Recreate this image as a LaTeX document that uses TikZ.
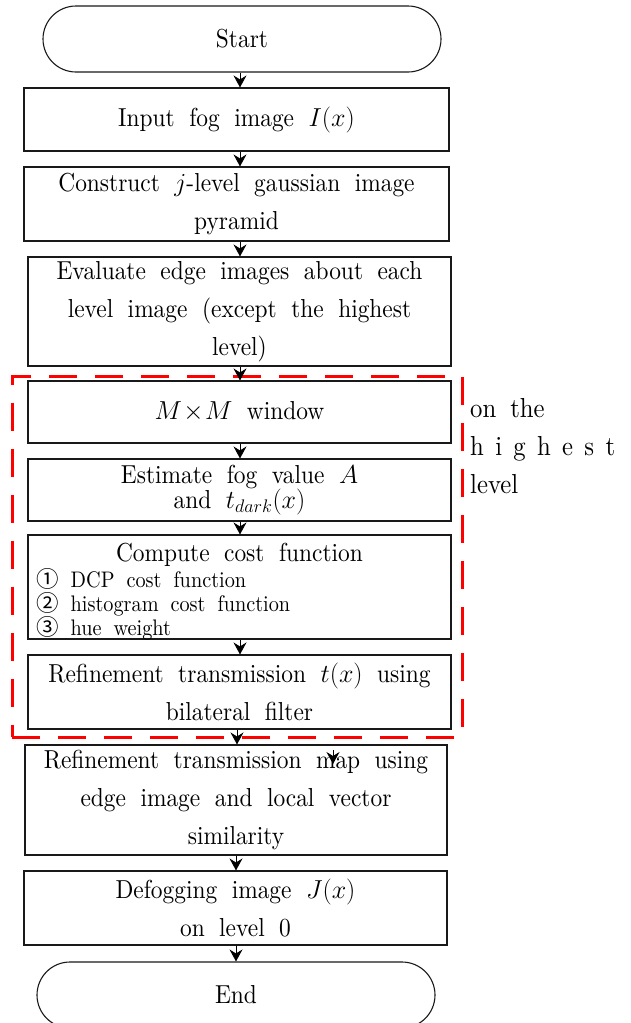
\RequirePackage{fix-cm}
\documentclass[tikz,border=0pt]{standalone}
\usepackage{fontspec}
\setmainfont{lmroman10-regular.otf}[FakeStretch=0.9, ItalicFont=lmroman10-italic.otf, BoldFont=lmroman10-bold.otf]
\newfontfamily\symf{Noto Sans CJK SC}
\usetikzlibrary{arrows.meta}
\newcommand\bt{\fontsize{26}{38}\selectfont\spaceskip=14.5pt plus 2pt minus 1pt\relax}
\newcommand\btt{\fontsize{26}{25}\selectfont\spaceskip=14.5pt plus 2pt minus 1pt\relax}
\newcommand\st{\fontsize{22.5}{24}\selectfont\spaceskip=12pt plus 2pt minus 1pt\relax}
\newcommand\sidet{\fontsize{27.5}{38}\selectfont\spaceskip=14pt plus 2pt minus 1pt\relax}
\tikzset{
  procbox/.style={draw=black!90, line width=1.1pt, inner sep=0pt, align=center, font=\bt},
  termbox/.style={procbox, rounded corners=33pt, minimum width=398pt, minimum height=66pt},
  arr/.style={-{Stealth[length=12pt,width=13pt,inset=4pt]}, line width=0.9pt, black},
  grpbox/.style={draw=red, line width=3pt, dash pattern=on 28pt off 18pt, inner sep=0pt},
  txt/.style={inner sep=0pt}
}
\begin{document}
\begin{tikzpicture}[x=1pt,y=-1pt]
\useasboundingbox (0,0) rectangle (630,1023);
\clip (0,0) rectangle (630,1023);

% dashed group
\node[grpbox, minimum width=450pt, minimum height=361pt] (grp) at (237,556.5) {};

% terminals and boxes
\node[termbox] (start) at (242,39) {Start};
\node[procbox, minimum width=425pt, minimum height=63pt] (b1) at (236.5,119.5) {Input fog image $I(x)$};
\node[procbox, minimum width=425pt, minimum height=74pt] (b2) at (236.5,204) {Construct $j$-level gaussian image\\pyramid};
\node[procbox, minimum width=423pt, minimum height=109pt] (b3) at (239.5,311.5) {Evaluate edge images about each\\level image (except the highest\\level)};
\node[procbox, minimum width=423pt, minimum height=62pt] (b4) at (239.5,412) {$M\!\times\! M$ window};
\node[procbox, minimum width=423pt, minimum height=62pt, font=\btt] (b5) at (239.5,490) {Estimate fog value $A$\\and $t_{dark}(x)$};
\node[procbox, minimum width=423pt, minimum height=104pt] (b6) at (239.5,587) {};
\node[txt, font=\bt, anchor=base] (b6t) at (239.5,561) {Compute cost function};
\node[txt, font=\st, anchor=base west] (b6a) at (36,587) {{\symf ①} DCP cost function};
\node[txt, font=\st, anchor=base west] (b6b) at (36,611) {{\symf ②} histogram cost function};
\node[txt, font=\st, anchor=base west] (b6c) at (36,635) {{\symf ③} hue weight};
\node[procbox, minimum width=423pt, minimum height=74pt] (b7) at (239.5,692) {Refinement transmission $t(x)$ using\\bilateral filter};
\node[procbox, minimum width=422pt, minimum height=110pt] (b8) at (236,800) {Refinement transmission map using\\edge image and local vector\\similarity};
\node[procbox, minimum width=423pt, minimum height=74pt] (b9) at (235.5,908) {Defogging image $J(x)$\\on level 0};
\node[termbox] (stop) at (236,995) {End};

% side label
\node[txt, font=\sidet, anchor=base west] (s1) at (470,417) {on the};
\node[txt, font=\sidet, anchor=base west] (s2) at (470,455) {\makebox[145pt][s]{\spaceskip=4pt plus 1fil\relax h i g h e s t}};
\node[txt, font=\sidet, anchor=base west] (s3) at (470,493) {level};

% arrow columns
\coordinate (ca) at (240,0);
\coordinate (cb) at (237,0);
\coordinate (cc) at (236,0);

\draw[arr] (start.south -| ca) -- (b1.north -| ca);
\draw[arr] (b1.south -| ca) -- (b2.north -| ca);
\draw[arr] (b2.south -| ca) -- (b3.north -| ca);
\draw[arr] (b3.south -| ca) -- (b4.north -| ca);
\draw[arr] (b4.south -| ca) -- (b5.north -| ca);
\draw[arr] (b5.south -| ca) -- (b6.north -| ca);
\draw[arr] (b6.south -| ca) -- (b7.north -| ca);
\draw[arr] (b7.south -| cb) -- (b8.north -| cb);
\draw[arr] (b8.south -| cc) -- (b9.north -| cc);
\draw[arr] (b9.south -| cc) -- (stop.north -| cc);

% stray arrow tip inside box 8
\coordinate (x1) at (333,750);
\coordinate (x2) at (333,764);
\draw[arr] (x1) -- (x2);
\end{tikzpicture}
\end{document}
